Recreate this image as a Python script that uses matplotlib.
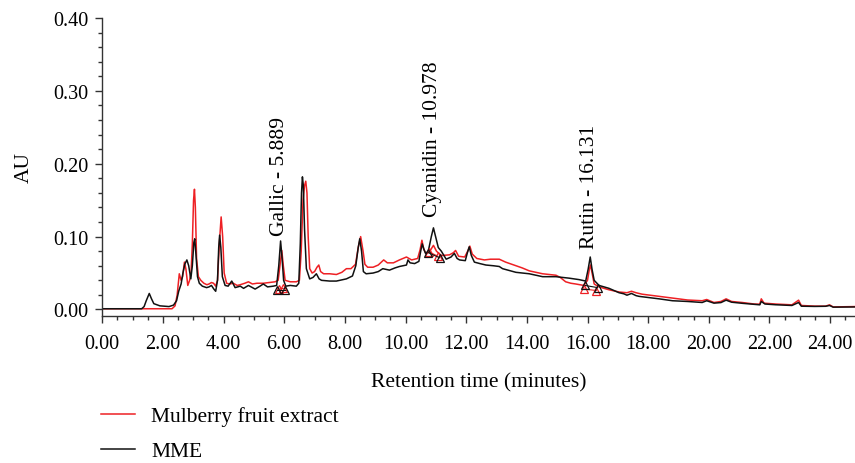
import numpy as np
import matplotlib
matplotlib.use("Agg")
import matplotlib.pyplot as plt
from matplotlib.ticker import MultipleLocator, FormatStrFormatter

plt.rcParams['font.family'] = ['Liberation Serif', 'DejaVu Serif']

# Mulberry fruit extract (red trace)
red_t = [0.0, 2.30, 2.40, 2.47, 2.54, 2.60, 2.65, 2.71, 2.76, 2.82, 2.88, 2.93, 2.97, 3.01, 3.04,
         3.07, 3.11, 3.17, 3.25, 3.35, 3.45, 3.52, 3.60, 3.67, 3.74, 3.80, 3.86, 3.92, 3.97, 4.02,
         4.10, 4.20, 4.32, 4.45, 4.55, 4.70, 4.82, 4.95, 5.10, 5.31, 5.50, 5.70, 5.80, 5.86, 5.92,
         5.97, 6.03, 6.20, 6.40, 6.50, 6.56, 6.62, 6.67, 6.71, 6.75, 6.79, 6.84, 6.92, 7.00, 7.08,
         7.14, 7.20, 7.30, 7.50, 7.72, 7.90, 8.05, 8.20, 8.35, 8.44, 8.52, 8.60, 8.66, 8.75, 8.93,
         9.10, 9.28, 9.40, 9.60, 9.80, 10.03, 10.20, 10.40, 10.48, 10.54, 10.60, 10.68, 10.80, 10.92,
         11.02, 11.18, 11.45, 11.58, 11.65, 11.75, 11.95, 12.05, 12.12, 12.20, 12.35, 12.60, 12.80,
         13.09, 13.30, 13.64, 13.85, 14.08, 14.30, 14.52, 14.75, 14.96, 15.10, 15.28, 15.45, 15.61,
         15.88, 16.00, 16.06, 16.10, 16.15, 16.22, 16.38, 16.71, 17.04, 17.30, 17.45, 17.60, 17.80,
         18.36, 18.80, 19.30, 19.78, 19.93, 20.17, 20.40, 20.57, 20.75, 21.10, 21.50, 21.68, 21.73,
         21.82, 22.20, 22.74, 22.96, 23.05, 23.50, 23.85, 23.98, 24.10, 24.82]
red_au = [0.001, 0.001, 0.005, 0.020, 0.049, 0.040, 0.045, 0.065, 0.055, 0.033, 0.040, 0.052, 0.090,
          0.150, 0.165, 0.140, 0.070, 0.045, 0.040, 0.036, 0.034, 0.035, 0.037, 0.036, 0.032, 0.040,
          0.090, 0.127, 0.100, 0.050, 0.036, 0.035, 0.036, 0.033, 0.034, 0.036, 0.038, 0.035, 0.036,
          0.036, 0.037, 0.038, 0.040, 0.060, 0.081, 0.060, 0.040, 0.038, 0.038, 0.040, 0.080, 0.150,
          0.170, 0.176, 0.160, 0.100, 0.056, 0.050, 0.052, 0.058, 0.061, 0.052, 0.049, 0.049, 0.048,
          0.051, 0.056, 0.056, 0.062, 0.085, 0.100, 0.080, 0.062, 0.058, 0.058, 0.061, 0.068, 0.064,
          0.064, 0.068, 0.072, 0.068, 0.070, 0.082, 0.095, 0.083, 0.076, 0.080, 0.088, 0.080, 0.074,
          0.075, 0.078, 0.081, 0.073, 0.072, 0.080, 0.087, 0.076, 0.070, 0.068, 0.069, 0.069, 0.065,
          0.060, 0.057, 0.053, 0.051, 0.049, 0.048, 0.047, 0.044, 0.038, 0.036, 0.035, 0.033, 0.040,
          0.055, 0.061, 0.050, 0.035, 0.031, 0.027, 0.024, 0.023, 0.025, 0.023, 0.021, 0.018, 0.0155,
          0.013, 0.012, 0.0137, 0.0096, 0.011, 0.0146, 0.011, 0.0096, 0.0075, 0.0073, 0.0146, 0.0087,
          0.0075, 0.0064, 0.0128, 0.0055, 0.0046, 0.0046, 0.0064, 0.0035, 0.004]

# MME (black trace)
mme_t = [0.0, 1.30, 1.38, 1.45, 1.55, 1.62, 1.70, 1.90, 2.20, 2.35, 2.45, 2.52, 2.60, 2.66, 2.72,
         2.79, 2.85, 2.92, 2.97, 3.02, 3.05, 3.09, 3.14, 3.20, 3.30, 3.44, 3.52, 3.60, 3.68, 3.74,
         3.80, 3.84, 3.87, 3.91, 3.96, 4.05, 4.15, 4.27, 4.38, 4.47, 4.55, 4.66, 4.82, 4.95, 5.04,
         5.20, 5.31, 5.45, 5.64, 5.75, 5.82, 5.88, 5.93, 5.98, 6.05, 6.20, 6.40, 6.48, 6.53, 6.57,
         6.60, 6.63, 6.67, 6.73, 6.84, 6.95, 7.06, 7.15, 7.23, 7.50, 7.72, 8.05, 8.25, 8.36, 8.44,
         8.49, 8.55, 8.61, 8.70, 8.93, 9.10, 9.25, 9.47, 9.65, 9.80, 10.03, 10.08, 10.15, 10.30,
         10.44, 10.50, 10.55, 10.61, 10.66, 10.75, 10.85, 10.92, 10.99, 11.08, 11.18, 11.34, 11.50,
         11.61, 11.70, 11.78, 11.97, 12.04, 12.10, 12.17, 12.27, 12.45, 12.65, 12.90, 13.09, 13.20,
         13.64, 14.08, 14.52, 14.96, 15.39, 15.72, 15.94, 16.02, 16.09, 16.15, 16.22, 16.38, 16.71,
         17.04, 17.20, 17.30, 17.45, 17.60, 17.70, 18.36, 18.80, 19.30, 19.78, 19.93, 20.17, 20.40,
         20.57, 20.75, 21.10, 21.68, 21.73, 21.85, 22.20, 22.74, 22.96, 23.05, 23.50, 23.85, 23.98,
         24.10, 24.82]
mme_au = [0.001, 0.001, 0.004, 0.012, 0.022, 0.015, 0.008, 0.005, 0.004, 0.006, 0.012, 0.025, 0.035,
          0.050, 0.062, 0.068, 0.060, 0.042, 0.060, 0.092, 0.097, 0.075, 0.045, 0.036, 0.032, 0.030,
          0.031, 0.033, 0.028, 0.025, 0.040, 0.085, 0.102, 0.085, 0.045, 0.033, 0.032, 0.039, 0.030,
          0.031, 0.032, 0.029, 0.033, 0.030, 0.028, 0.032, 0.035, 0.031, 0.032, 0.033, 0.060, 0.094,
          0.070, 0.040, 0.032, 0.033, 0.032, 0.036, 0.090, 0.160, 0.182, 0.170, 0.110, 0.056, 0.042,
          0.044, 0.049, 0.042, 0.040, 0.039, 0.039, 0.042, 0.046, 0.060, 0.085, 0.097, 0.080, 0.052,
          0.049, 0.050, 0.052, 0.056, 0.054, 0.057, 0.059, 0.061, 0.068, 0.064, 0.063, 0.066, 0.080,
          0.090, 0.082, 0.077, 0.080, 0.100, 0.112, 0.100, 0.085, 0.080, 0.069, 0.072, 0.077, 0.070,
          0.068, 0.067, 0.078, 0.086, 0.074, 0.065, 0.063, 0.061, 0.060, 0.059, 0.056, 0.051, 0.049,
          0.045, 0.045, 0.043, 0.041, 0.039, 0.055, 0.072, 0.055, 0.040, 0.033, 0.029, 0.023, 0.0215,
          0.0196, 0.022, 0.019, 0.018, 0.0146, 0.012, 0.011, 0.0096, 0.012, 0.0087, 0.0095, 0.0128,
          0.010, 0.0085, 0.0064, 0.011, 0.0075, 0.0065, 0.0055, 0.0096, 0.0045, 0.0042, 0.0044,
          0.0055, 0.0032, 0.0035]

# integration start/end markers (triangles) per peak
red_marks = [([5.82, 5.97], [0.028, 0.029]), ([10.78, 11.07], [0.079, 0.073]),
             ([15.90, 16.29], [0.028, 0.026])]
mme_marks = [([5.75, 6.02], [0.027, 0.027]), ([10.75, 11.12], [0.078, 0.071]),
             ([15.92, 16.33], [0.033, 0.030])]

peak_names = ["Gallic - 5.889", "Cyanidin - 10.978", "Rutin - 16.131"]
peak_pos = [(5.86, 0.102), (10.88, 0.128), (16.08, 0.084)]

fig = plt.figure(figsize=(8.55, 4.64), dpi=100)
ax = fig.add_axes([0.1196, 0.3175, 0.8804, 0.6416])

red = '#ee2024'
ax.plot(red_t, red_au, color=red, lw=1.1, label='Mulberry fruit extract')
ax.plot(mme_t, mme_au, color='#111111', lw=1.1, label='MME')

for (xs, ys) in red_marks:
    ax.plot(xs, ys, color=red, lw=0.8, marker='^', ms=6, mfc='none', mew=0.9)
for (xs, ys) in mme_marks:
    ax.plot(xs, ys, color='#111111', lw=0.8, marker='^', ms=6, mfc='none', mew=0.9)

for name, (x, y) in zip(peak_names, peak_pos):
    ax.text(x, y, name, rotation=90, ha='center', va='bottom', fontsize=15.5)

ax.set_xlim(0, 24.82)
ax.xaxis.set_major_locator(MultipleLocator(2))
ax.xaxis.set_minor_locator(MultipleLocator(0.5))
ax.yaxis.set_minor_locator(MultipleLocator(0.02))
ax.xaxis.set_major_formatter(FormatStrFormatter('%.2f'))
ax.yaxis.set_major_formatter(FormatStrFormatter('%.2f'))
ax.set_yticks(np.arange(0, 0.41, 0.1))
ax.set_ylim(-0.0085, 0.40)

for s in ['top', 'right']:
    ax.spines[s].set_visible(False)
for s in ['left', 'bottom']:
    ax.spines[s].set_color('#333333')
    ax.spines[s].set_linewidth(1.0)
ax.tick_params(which='major', length=5, width=1.0, color='#333333', labelsize=14.5, pad=5)
ax.tick_params(axis='x', which='major', pad=8)
ax.tick_params(which='minor', length=3, width=1.0, color='#333333')

ax.set_xlabel('Retention time (minutes)', fontsize=15.5, labelpad=14)
ax.set_ylabel('AU', fontsize=15.5, labelpad=14)

fig.legend(loc='upper left', bbox_to_anchor=(0.118, 0.122), frameon=False,
           fontsize=15.5, handlelength=1.6, handletextpad=0.75, labelspacing=0.68,
           borderaxespad=0, borderpad=0)

fig.savefig('out.png', dpi=100)
